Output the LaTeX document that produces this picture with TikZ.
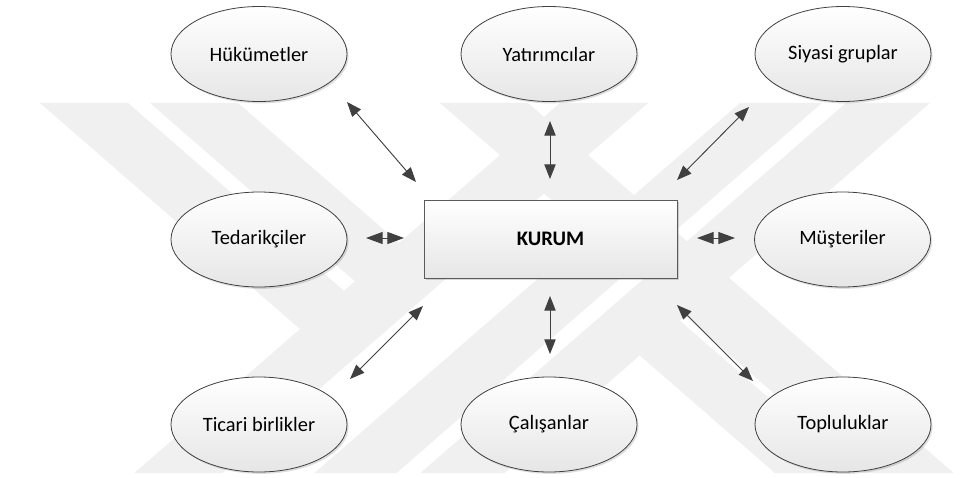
\documentclass[tikz,border=0pt]{standalone}
\usepackage{fontspec}
\setmainfont{Carlito}
\usetikzlibrary{shapes.geometric,arrows.meta,shadows}

\definecolor{linegray}{HTML}{404040}
\definecolor{boxline}{HTML}{5A5A5A}
\definecolor{wm}{HTML}{F0F0F0}
\definecolor{fillbot}{HTML}{E6E6E6}

\tikzset{
  party/.style={ellipse, draw=linegray, line width=0.6pt,
    top color=white, bottom color=fillbot,
    minimum width=132pt, minimum height=71.25pt, inner sep=0pt,
    font=\fontsize{15.3}{18}\selectfont,
    drop shadow={shadow xshift=1.2pt, shadow yshift=-1.4pt, fill=black, opacity=0.13}},
  core/.style={rectangle, draw=boxline, line width=0.7pt,
    top color=white, bottom color=fillbot,
    minimum width=189.75pt, minimum height=58.5pt, inner sep=0pt,
    font=\fontsize{15.5}{18}\selectfont\bfseries,
    drop shadow={shadow xshift=1.4pt, shadow yshift=-1.6pt, fill=black, opacity=0.15}},
  link/.style={draw=linegray, line width=0.7pt,
    {Triangle[length=11pt,width=8.5pt]}-{Triangle[length=11pt,width=8.5pt]}},
  shortlink/.style={draw=linegray, line width=0.7pt,
    {Triangle[length=12.5pt,width=9pt]}-{Triangle[length=12.5pt,width=9pt]}},
  band/.style={fill=wm, draw=none}
}

\begin{document}
\begin{tikzpicture}[x=0.75pt, y=-0.75pt]
  % page and background
  \useasboundingbox (0,0) rectangle (978,478);
  \fill[white] (0,0) rectangle (978,478);

  % watermark bands
  \fill[band] (560,103) -- (648,103) -- (222.5,473) -- (134.5,473) -- cycle;
  \fill[band] (740,103) -- (822,103) -- (396.5,473) -- (314.5,473) -- cycle;
  \fill[band] (846,103) -- (930,103) -- (504.5,473) -- (420.5,473) -- cycle;
  \fill[band] (440,103) -- (528,103) -- (953.5,473) -- (865.5,473) -- cycle;
  \begin{scope}
    \clip (0,103) -- (560,103) -- (134.5,473) -- (0,473) -- cycle;
    \fill[band] (40,103) -- (128,103) -- (553.5,473) -- (465.5,473) -- cycle;
    \fill[band] (150,103) -- (238,103) -- (663.5,473) -- (575.5,473) -- cycle;
  \end{scope}
  \begin{scope}
    \clip (930,103) -- (978,103) -- (978,473) -- (504.5,473) -- cycle;
    \fill[band] (349.5,103) -- (429.5,103) -- (855,473) -- (775,473) -- cycle;
  \end{scope}

  % central organisation
  \node[core] (kurum) at (550.5,239) {KURUM};

  % stakeholder groups
  \node[party] (hukumet)  at (259,54)    {Hükümetler};
  \node[party] (yatirim)  at (549,54)    {Yatırımcılar};
  \node[party] (siyasi)   at (843,54)    {Siyasi gruplar};
  \node[party] (tedarik)  at (259,239.5) {Tedarikçiler};
  \node[party] (musteri)  at (842.5,239.5) {Müşteriler};
  \node[party] (ticari)   at (259,424.5) {Ticari birlikler};
  \node[party] (calisan)  at (549,424.5) {Çalışanlar};
  \node[party] (topluluk) at (843,424.5) {Topluluklar};

  % free ends of the two-way arrows
  \coordinate (hA) at (347,102);   \coordinate (hB) at (416,182);
  \coordinate (yA) at (550,121);   \coordinate (yB) at (550,179);
  \coordinate (sA) at (749,107);   \coordinate (sB) at (677,180);
  \coordinate (tA) at (366,238);   \coordinate (tB) at (404,238);
  \coordinate (mA) at (697,238);   \coordinate (mB) at (735,238);
  \coordinate (bA) at (423,306);   \coordinate (bB) at (350,379);
  \coordinate (cA) at (550,296);   \coordinate (cB) at (550,354);
  \coordinate (pA) at (677,305);   \coordinate (pB) at (753,381);

  % two-way relations
  \draw[link] (hA) -- (hB);
  \draw[link] (yA) -- (yB);
  \draw[link] (sA) -- (sB);
  \draw[shortlink] (tA) -- (tB);
  \draw[shortlink] (mA) -- (mB);
  \draw[link] (bA) -- (bB);
  \draw[link] (cA) -- (cB);
  \draw[link] (pA) -- (pB);
\end{tikzpicture}
\end{document}
